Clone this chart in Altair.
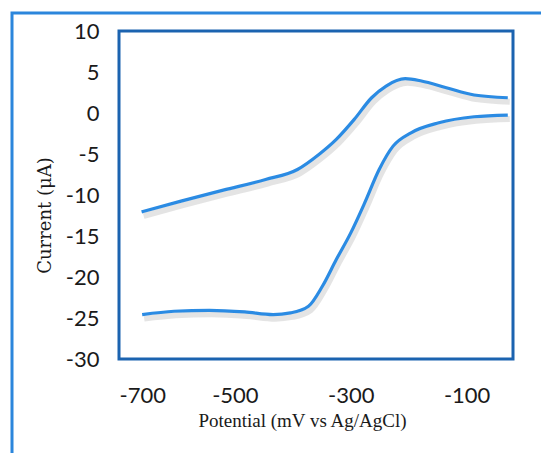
import altair as alt
import pandas as pd

# Anodic (upper) scan
upper_x = [-661, -593, -520, -447, -392, -355, -325, -294, -264, -239, -206, -178, -135, -87, -29]
upper_y = [-12.06, -10.75, -9.41, -8.11, -6.89, -5.06, -3.22, -0.78, 1.86, 3.29, 4.18, 3.90, 3.08, 2.19, 1.86]
# Cathodic (lower) scan
lower_x = [-660, -605, -544, -483, -434, -404, -373, -349, -325, -300, -276, -251, -227, -196, -148, -87, -29]
lower_y = [-24.59, -24.18, -24.06, -24.26, -24.59, -24.38, -23.57, -21.13, -17.87, -14.62, -10.96, -6.89,
           -4.04, -2.41, -1.19, -0.46, -0.25]

x_ticks = [-700, -500, -300, -100]
y_ticks = [-30, -25, -20, -15, -10, -5, 0, 5, 10]

rows = []
for i, (x, y) in enumerate(zip(upper_x, upper_y)):
    rows.append({"scan": "upper", "i": i, "E": x, "I": y})
for i, (x, y) in enumerate(zip(lower_x, lower_y)):
    rows.append({"scan": "lower", "i": i, "E": x, "I": y})
df = pd.DataFrame(rows)

xs = alt.Scale(domain=[-700, -20], nice=False, zero=False)
ys = alt.Scale(domain=[-30, 10], nice=False, zero=False)

x_axis = alt.Axis(values=x_ticks, domain=False, ticks=False, grid=False,
                  labelExpr="toString(datum.value)",
                  labelFont="Lato", labelFontSize=22, labelColor="#1a1a1a", labelPadding=26,
                  title="Potential (mV vs Ag/AgCl)", titleFont="Liberation Serif", titleFontSize=19,
                  titleFontWeight="normal", titleColor="#1a1a1a",
                  titleX=183, titleY=61, titleAlign="center", titleBaseline="middle")
y_axis = alt.Axis(values=y_ticks, domain=False, ticks=False, grid=False,
                  labelExpr="toString(datum.value)",
                  labelFont="Lato", labelFontSize=22, labelColor="#1a1a1a", labelPadding=20,
                  title="Current (μA)", titleFont="DejaVu Serif", titleFontSize=18,
                  titleFontWeight="normal", titleColor="#1a1a1a",
                  titleX=-74, titleY=184, titleAlign="center", titleBaseline="middle")

shadow = alt.Chart(df).mark_line(
    color="#555555", strokeWidth=6, opacity=0.16, interpolate="monotone", xOffset=2, yOffset=4
).encode(
    x=alt.X("E:Q", scale=xs, axis=x_axis),
    y=alt.Y("I:Q", scale=ys, axis=y_axis),
    detail="scan:N",
    order="i:Q",
)

curve = alt.Chart(df).mark_line(
    color="#2b8be3", strokeWidth=3.2, interpolate="monotone"
).encode(
    x=alt.X("E:Q", scale=xs),
    y=alt.Y("I:Q", scale=ys),
    detail="scan:N",
    order="i:Q",
)

box = pd.DataFrame({"a": [0]})
outer = alt.Chart(box).mark_rect(
    fill=None, stroke="#2b86dc", strokeWidth=3
).encode(
    x=alt.value(-107), x2=alt.value(460), y=alt.value(-18), y2=alt.value(460)
)
frame = alt.Chart(box).mark_rect(
    fill=None, stroke="#1b63b0", strokeWidth=3
).encode(
    x=alt.value(0), x2=alt.value(394), y=alt.value(0), y2=alt.value(328)
)

chart = alt.layer(outer, frame, shadow, curve).properties(
    width=394, height=328,
    autosize=alt.AutoSizeParams(type="none"),
    padding={"left": 111, "top": 23, "right": 28, "bottom": 94},
).configure_view(
    strokeWidth=0
).configure(background="white")

chart.save("out.html", embed_options={"renderer": "svg", "actions": False})
